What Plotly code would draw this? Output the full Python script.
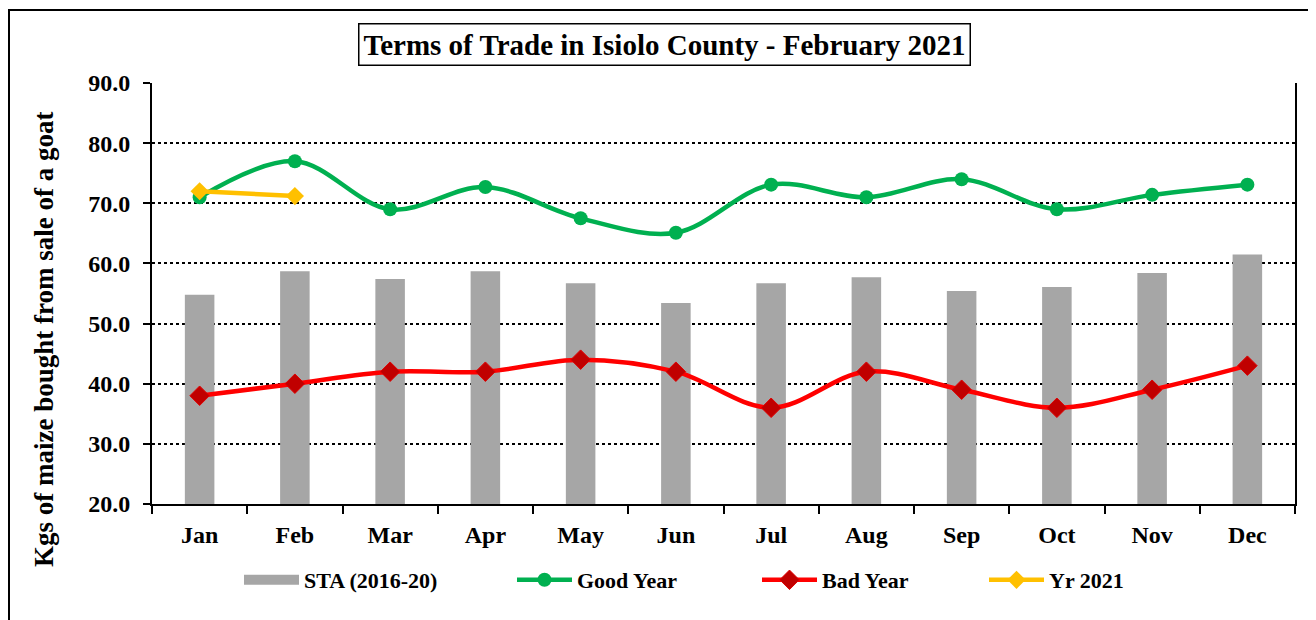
import plotly.graph_objects as go

months = ['Jan', 'Feb', 'Mar', 'Apr', 'May', 'Jun',
          'Jul', 'Aug', 'Sep', 'Oct', 'Nov', 'Dec']
sta = [54.8, 58.7, 57.4, 58.7, 56.7, 53.4, 56.7, 57.7, 55.4, 56.1, 58.4, 61.5]
good_year = [71.0, 77.0, 69.0, 72.7, 67.5, 65.1, 73.1, 71.0, 74.0, 69.0, 71.4, 73.1]
bad_year = [38.0, 40.0, 42.0, 42.0, 44.0, 42.0, 36.0, 42.0, 39.0, 36.0, 39.0, 43.0]
yr_2021 = [72.0, 71.2]

FONT = 'Liberation Serif'

# page body has an 8px margin, so work in screen pixels and shift back
OFF = 8
W, H = 1316, 620
# plot area on screen: x 152..1295, y 83..504
L = 152 - OFF
T = 83 - OFF
R = W - (1295 - OFF)
B = H - (504 - OFF)
pw = W - L - R
ph = H - T - B


def px(x):
    return (x - OFF - L) / pw


def py(y):
    return (H - B - (y - OFF)) / ph


fig = go.Figure()

fig.add_trace(go.Bar(
    x=months, y=sta, name='STA (2016-20)',
    marker=dict(color='#A6A6A6', line=dict(width=0)),
    width=0.31, showlegend=False,
))
# legend entry for the bars, drawn as a wide grey block like the original
fig.add_trace(go.Scatter(
    x=[None], y=[None], name='STA (2016-20)', mode='lines',
    line=dict(color='#A6A6A6', width=13), legend='legend',
))

fig.add_trace(go.Scatter(
    x=months, y=good_year, name='Good Year',
    mode='lines+markers',
    line=dict(color='#00B050', width=4.5, shape='spline', smoothing=1),
    marker=dict(symbol='circle', size=14, color='#00B050'),
    legend='legend2',
))

fig.add_trace(go.Scatter(
    x=months, y=bad_year, name='Bad Year',
    mode='lines+markers',
    line=dict(color='#FF0000', width=4.5, shape='spline', smoothing=1),
    marker=dict(symbol='diamond', size=15, color='#C00000',
                line=dict(color='#E00000', width=1)),
    legend='legend3',
))

fig.add_trace(go.Scatter(
    x=months[:len(yr_2021)], y=yr_2021, name='Yr 2021',
    mode='lines+markers',
    line=dict(color='#FFC000', width=4.5),
    marker=dict(symbol='diamond', size=14, color='#FFC000'),
    legend='legend4',
))


def legend_at(x_screen):
    return dict(
        orientation='h',
        x=px(x_screen), xanchor='left',
        y=py(580), yanchor='middle',
        font=dict(family=FONT, size=22, weight='bold', color='black'),
        itemwidth=55,
        bgcolor='rgba(0,0,0,0)',
    )


fig.update_layout(
    width=W, height=H,
    margin=dict(l=L, r=R, t=T, b=B),
    paper_bgcolor='white',
    plot_bgcolor='white',
    font=dict(family=FONT, color='black'),
    showlegend=True,
    legend=legend_at(239),
    legend2=legend_at(512),
    legend3=legend_at(757),
    legend4=legend_at(984),
)

fig.update_xaxes(
    type='category',
    range=[-0.5, 11.5],
    showline=True, linecolor='black', linewidth=2,
    ticks='outside', tickson='boundaries', ticklen=8, tickwidth=2,
    tickcolor='black',
    tickfont=dict(family=FONT, size=24, weight='bold', color='black'),
    ticklabelstandoff=8,
    showgrid=False,
    mirror=False,
)

fig.update_yaxes(
    range=[20, 90], dtick=10, tick0=20,
    tickformat='.1f',
    showline=True, linecolor='black', linewidth=2, mirror=True,
    ticks='outside', ticklen=7, tickwidth=2, tickcolor='black',
    tickfont=dict(family=FONT, size=24, weight='bold', color='black'),
    ticklabelstandoff=8,
    showgrid=True, gridcolor='black', gridwidth=2, griddash='dot',
    zeroline=False,
)

# boxed title
fig.add_annotation(
    text='Terms of Trade in Isiolo County - February 2021',
    xref='paper', yref='paper',
    x=px(664), y=py(45), xanchor='center', yanchor='middle',
    showarrow=False,
    font=dict(family=FONT, size=29, weight='bold', color='black'),
    bordercolor='black', borderwidth=1.5, borderpad=4,
    bgcolor='white',
)

# y axis title
fig.add_annotation(
    text='Kgs of maize bought from sale of a goat',
    xref='paper', yref='paper',
    x=px(44), y=py(340), xanchor='center', yanchor='middle',
    textangle=-90, showarrow=False,
    font=dict(family=FONT, size=27, weight='bold', color='black'),
)

# outer chart frame
fig.add_shape(
    type='rect', xref='paper', yref='paper',
    x0=px(9), x1=px(1340), y0=py(660), y1=py(10),
    line=dict(color='black', width=2),
    fillcolor='rgba(0,0,0,0)',
    layer='below',
)

fig.write_html('out.html')
